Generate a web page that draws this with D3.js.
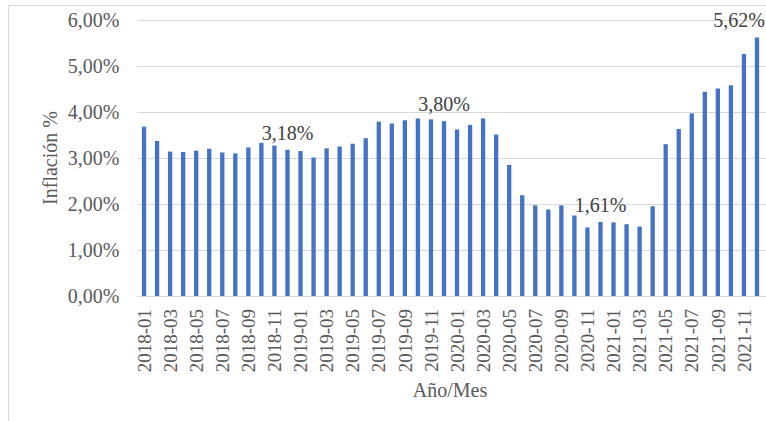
<!DOCTYPE html>
<html>
<head>
<meta charset="utf-8">
<script src="https://cdn.jsdelivr.net/npm/d3@7"></script>
<style>
  html, body { margin: 0; padding: 0; background: #ffffff; }
  svg { display: block; }
  svg text { font-family: "Liberation Serif", "Times New Roman", "DejaVu Serif", serif !important; }
</style>
</head>
<body>
<svg id="chart" width="766" height="421"></svg>
<script>
// ---- data ----
const months = [
  "2018-01","2018-02","2018-03","2018-04","2018-05","2018-06","2018-07","2018-08","2018-09","2018-10","2018-11","2018-12",
  "2019-01","2019-02","2019-03","2019-04","2019-05","2019-06","2019-07","2019-08","2019-09","2019-10","2019-11","2019-12",
  "2020-01","2020-02","2020-03","2020-04","2020-05","2020-06","2020-07","2020-08","2020-09","2020-10","2020-11","2020-12",
  "2021-01","2021-02","2021-03","2021-04","2021-05","2021-06","2021-07","2021-08","2021-09","2021-10","2021-11","2021-12"
];
const inflation = [
  3.68, 3.37, 3.14, 3.13, 3.16, 3.20, 3.12, 3.10, 3.23, 3.33, 3.27, 3.18,
  3.15, 3.01, 3.21, 3.25, 3.31, 3.43, 3.79, 3.75, 3.82, 3.86, 3.84, 3.80,
  3.62, 3.72, 3.86, 3.51, 2.85, 2.19, 1.97, 1.88, 1.97, 1.75, 1.49, 1.61,
  1.60, 1.56, 1.51, 1.95, 3.30, 3.63, 3.97, 4.44, 4.51, 4.58, 5.26, 5.62
];
const labeledMonths = ["2018-12", "2019-12", "2020-12", "2021-12"];
const xTickLabels = months.filter((m, i) => i % 2 === 0);
const yTicks = [0, 1, 2, 3, 4, 5, 6];
const yTitle = "Inflación %";
const xTitle = "Año/Mes";

// ---- chart ----
const FONT = "'Liberation Serif', 'Times New Roman', 'DejaVu Serif', serif";
const svg = d3.select("#chart");
const W = 766, H = 421;
const plot = { left: 137.5, right: 763.5, top: 20, bottom: 296 };

const locale = d3.formatLocale({ decimal: ",", thousands: ".", grouping: [3], currency: ["", ""] });
const fmt = v => locale.format(".2f")(v) + "%";

const x = d3.scaleBand().domain(months).range([plot.left, plot.right])
  .paddingInner(0.67).paddingOuter(0.335);
const y = d3.scaleLinear().domain([0, 6]).range([plot.bottom, plot.top]);

// outer frame (left + top edges visible)
svg.append("path")
  .attr("d", `M8.5,${H} V5.5 H${W}`)
  .attr("fill", "none").attr("stroke", "#d9d9d9").attr("stroke-width", 1);

// y axis with gridlines
const yAxis = svg.append("g")
  .attr("transform", `translate(${plot.left},0)`)
  .call(d3.axisLeft(y).tickValues(yTicks).tickFormat(fmt)
    .tickSize(-(W - plot.left)).tickPadding(18));
yAxis.attr("font-family", FONT);
yAxis.select(".domain").remove();
yAxis.selectAll(".tick line").attr("stroke", "#d9d9d9").attr("stroke-width", 1);
yAxis.selectAll(".tick text")
  .attr("fill", "#595959").attr("font-size", "20px")
  .attr("font-family", FONT);

// bars
svg.append("g").selectAll("rect")
  .data(months.map((m, i) => ({ m, v: inflation[i] })))
  .join("rect")
  .attr("x", d => x(d.m))
  .attr("width", x.bandwidth())
  .attr("y", d => y(d.v))
  .attr("height", d => y(0) - y(d.v))
  .attr("fill", "#4472c4");

// x axis tick labels
const xAxis = svg.append("g")
  .attr("transform", `translate(0,${plot.bottom})`)
  .call(d3.axisBottom(x).tickValues(xTickLabels).tickSize(0).tickPadding(0));
xAxis.attr("font-family", FONT);
xAxis.select(".domain").remove();
xAxis.selectAll(".tick text")
  .attr("fill", "#595959").attr("font-size", "19px")
  .attr("font-family", FONT)
  .attr("text-anchor", "end")
  .attr("transform", "translate(0,13) rotate(-90)")
  .attr("x", 0).attr("y", 0).attr("dy", "0.35em");

// data labels (shifted left if they would run past the right edge)
svg.append("g").selectAll("text")
  .data(months.map((m, i) => ({ m, v: inflation[i] })).filter(d => labeledMonths.includes(d.m)))
  .join("text")
  .attr("x", d => x(d.m) + x.bandwidth() / 2)
  .attr("y", d => y(d.v) - 10)
  .attr("text-anchor", "middle")
  .attr("font-family", FONT)
  .attr("font-size", "20px")
  .attr("fill", "#404040")
  .text(d => fmt(d.v))
  .each(function () {
    const t = d3.select(this);
    const w = this.getComputedTextLength();
    const cx = +t.attr("x");
    const maxRight = W - 1;
    if (cx + w / 2 > maxRight) t.attr("x", maxRight - w / 2);
  });

// axis titles
svg.append("text")
  .attr("transform", `translate(57,${(plot.top + plot.bottom) / 2}) rotate(-90)`)
  .attr("text-anchor", "middle")
  .attr("font-family", FONT)
  .attr("font-size", "20px").attr("fill", "#595959")
  .text(yTitle);

svg.append("text")
  .attr("x", 450).attr("y", 397)
  .attr("text-anchor", "middle")
  .attr("font-family", FONT)
  .attr("font-size", "20px").attr("fill", "#595959")
  .text(xTitle);
</script>
</body>
</html>
